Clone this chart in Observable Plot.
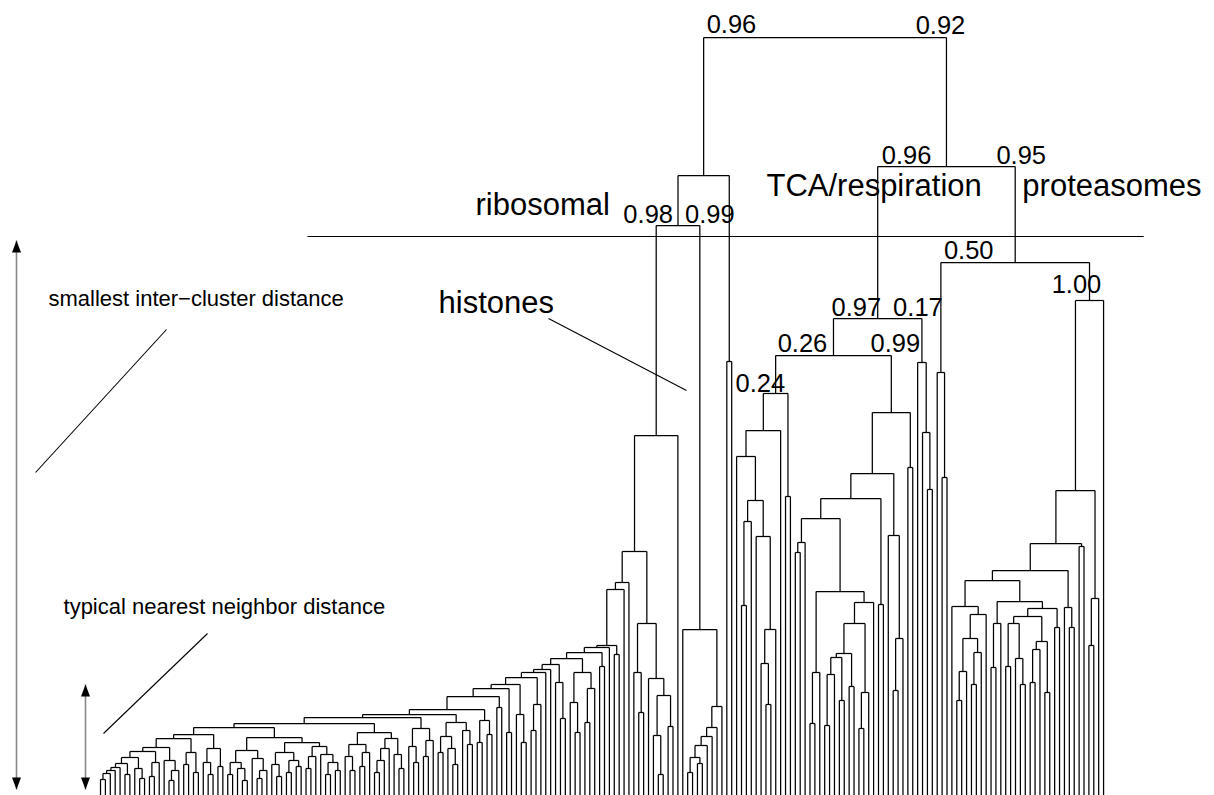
<!DOCTYPE html>
<html>
<head>
<meta charset="utf-8">
<script src="https://cdn.jsdelivr.net/npm/d3@7"></script>
<script src="https://cdn.jsdelivr.net/npm/@observablehq/plot@0.6"></script>
<style>
  html, body { margin: 0; padding: 0; background: #fff; }
  #chart svg { display: block; }
</style>
</head>
<body>
<div id="chart"></div>
<script>
// ---------------- DATA ----------------
// Tree notation: a leaf is 0, a join is [height, left, right].
// Heights are distances above the leaf baseline (figure units ≈ pixels).

// left "staircase" of small clusters, joined one after another
const stairFirst = [13, 0, 0];
const stairBlockA = [55, [42, [30, [18, 0, 0], [24, 0, [12, 0, 0]]], [34, 0, [22, [14, 0, 0], 0]]],
                         [50, [40, [28, 0, [16, 0, 0]], [32, [20, 0, 0], [26, 0, 0]]],
                              [46, [36, [24, 0, 0], 0], [38, 0, [30, [18, 0, 0], [22, 0, 0]]]]]];
const stairBlockB = [60, [48, [36, 0, [22, 0, 0]], [40, [26, 0, 0], 0]],
                         [54, [44, [32, [20, 0, 0], 0], 0], [38, 0, [24, 0, 0]]]];
const stairBlockC = [64, [46, 0, [30, 0, 0]], [52, [36, 0, 0], 0]];
const stairBlockD = [70, [56, [40, 0, 0], [44, 0, [28, 0, 0]]], [62, 0, [48, 0, 0]]];
const stairBlockE = [72, [50, 0, 0], [58, 0, 0]];
const stairHeights = [19, 22, 25, 29, 35, 41, 45, 54, 58, 65, 69, 75, 78, 83, 96, 104, 108, 115, 120, 123, 128, 134, 140, 145, 147];
const stairGroups = [
  0, 0, 0, [18, 0, 0], [24, 0, [14, 0, 0]], [30, [16, 0, 0], 0], [32, 0, [22, [12, 0, 0], 0]],
  [40, [28, 0, 0], [20, 0, 0]], [44, [30, 0, [18, 0, 0]], [26, 0, 0]],
  stairBlockA, stairBlockB, stairBlockC, stairBlockD, stairBlockE,
  [85, 0, 0], [60, 0, 0], [78, 0, [50, 0, 0]], [88, [62, 0, 0], 0], 0, 0,
  [110, 0, [74, 0, 0]], [120, [90, 0, [60, 0, 0]], [104, [70, 0, 0], 0]], [126, 0, 0], 0, [138, 0, 0]
];

// ribosomal / histone side
const ribosomalSide = [169, [120, 0, [80, 0, 0]], [114, 0, [97, [57, 0, [18, 0, 0]], [66, 0, 0]]]];
const histones = [163, 0, [86, [65, [56, [47, [35, [20, 0, 0], [29, 0, 0]], 0], 0], 0], 0]];
const histoneNeighbour = [431, 0, 0];

// TCA / respiration
const tcaA = [399, [362, [336, 0, [292, [271, [187, 0, 0], 0], [256, 0, [163, [129, 0, [88, 0, 0]], 0]]]], 0], [296, 0, 0]];
const tcaB1 = [250, [240, 0, 0], 0];
const tcaB2 = [139, [135, [118, [67, 0, 0], 0], [92, 0, 0]], [106, 0, 0]];
const tcaB3 = [100, [64, 0, 0], 0];
const tcaB4 = [257, 0, [154, [102, 0, 0], 0]];
const tcaBJoins = [380, 319, 294, 274, 201, 190, 169];
const tcaC = [430, 0, [360, 0, [303, 0, 0]]];

// proteasomes
const protA = [420, 0, [315, 0, 0]];
const protF = [186, 0, [178, [154, [121, [92, 0, 0], 0], [140, [108, 0, 0], 0]], 0]];
const protG = [191, [169, [125, 0, 0], 0],
                    [184, [176, [169, [126, 0, 0], [134, 0, [108, 0, 0]]], [151, [143, [110, 0, 0], 0], [100, 0, 0]]],
                          [165, 0, 0]]];
const protSmall = [[185, 0, [165, 0, 0]], [246, 0, 0], [194, [147, 0, 0], 0]];

// upper joins
const upperJoins = [755, 617, 567, 357, 241, 210, 203, 626, 474, 437, 530, 492, 302, 249, 222, 212];

// node labels
const labelText   = ["0.96", "0.92", "0.96", "0.95", "0.98", "0.99", "0.97", "0.17", "0.26", "0.99", "0.24", "0.50", "1.00"];
const labelNode   = ["root", "root", "rt", "rt", "a1", "a1", "tca", "tca", "t1", "t1", "t1a", "prot", "p2"];
const labelAt     = ["L", "R", "L", "R", "C", "C", "L", "R", "L", "R", "L", "L", "L"];
const labelAnchor = ["start", "middle", "start", "middle", "end", "start", "start", "middle", "start", "middle", "middle", "start", "middle"];
const labelDx     = [3, -6, 4, 6, -5, 7, -2, -4, 2, 4, -3, 3, 1];
const labelDy     = [5, 4, 3, 3, 3, 3, 3, 3, 4, 4, 2, 4, 8];

// annotations (x in leaf units, y in height units)
const cutX = [42.3, 213.2];
const cutHeight = 556;
const arrowX = [-17.17, -3.07];
const arrowLow = [3, 3];
const arrowHigh = [552, 108];
const pointerX1 = [-13.28, 0.61, 91.56];
const pointerY1 = [320, 59, 474];
const pointerX2 = [13.49, 21.87, 119.76];
const pointerY2 = [463, 159, 402];
const noteText = ["smallest inter\u2212cluster distance", "typical nearest neighbor distance", "histones", "ribosomal", "TCA/respiration", "proteasomes"];
const noteX = [-10.63, -7.56, 69.08, 76.64, 136.1, 188.4];
const noteY = [487, 179, 480, 578, 597, 597];
const noteSize = [22, 22, 31, 31, 31, 31];

// ---------------- BUILD ----------------
const [hRoot, hA, hA1, hRibo, hR1, hR1a, hR1x, hRT, hTCA, hT1, hProt, hP2, hP2a, hP2b, hP2d, hP2e] = upperJoins;
const stair = stairHeights.reduce((acc, h, k) => [h, acc, stairGroups[k]], stairFirst);
const ribo = [hRibo, [hR1, [hR1a, [hR1x, stair, 0], 0], ribosomalSide], 0];
const a1 = [hA1, ribo, histones];
const aNode = [hA, a1, histoneNeighbour];

const [b0, b1, b2, b3, b4, b5, b6] = tcaBJoins;
const tcaB = [b0, [b1, [b2, [b3, tcaB1, [b4, [120, [69, 0, 0], 0], [b5, [b6, tcaB2, tcaB3], 0]]], [188, 0, 0]], tcaB4], [325, 0, 0]];
const t1 = [hT1, tcaA, tcaB];
const tca = [hTCA, t1, tcaC];

const pE = [hP2e, protF, protG];
const pD = [hP2d, pE, protSmall[0]];
const pB = [hP2b, pD, protSmall[1]];
const pA = [hP2a, pB, protSmall[2]];
const p2 = [hP2, pA, 0];
const prot = [hProt, protA, p2];
const rt = [hRT, tca, prot];
const root = [hRoot, aNode, rt];
const named = {root, rt, a1, tca, t1, t1a: tcaA, prot, p2};

const leafBase = -3;
let leafIndex = 0;
const nodeOf = new Map();
const segs = [];
function build(t) {
  if (t === 0) return {x: leafIndex++, h: leafBase};
  const [h, l, r] = t;
  const A = build(l), B = build(r);
  const n = {x: (A.x + B.x) / 2, h, kids: [A, B]};
  segs.push({x1: A.x, y1: A.h, x2: A.x, y2: h});
  segs.push({x1: B.x, y1: B.h, x2: B.x, y2: h});
  segs.push({x1: A.x, y1: h, x2: B.x, y2: h});
  nodeOf.set(t, n);
  return n;
}
build(root);

const W = 1214, H = 795;
const xDomain = [-20.44, 227.67];
const yDomain = [-3, 792];
const pxPerLeaf = W / (xDomain[1] - xDomain[0]);

const labels = labelText.map((text, i) => {
  const n = nodeOf.get(named[labelNode[i]]);
  const bx = labelAt[i] === "L" ? n.kids[0].x : labelAt[i] === "R" ? n.kids[1].x : n.x;
  return {text, anchor: labelAnchor[i], x: bx + labelDx[i] / pxPerLeaf, y: n.h + labelDy[i]};
});
const notes = noteText.map((text, i) => ({text, x: noteX[i], y: noteY[i], size: noteSize[i]}));
const arrows = arrowX.map((x, i) => ({x, lo: arrowLow[i], hi: arrowHigh[i]}));
const pointers = pointerX1.map((x, i) => ({x1: x, y1: pointerY1[i], x2: pointerX2[i], y2: pointerY2[i]}));

const headUp = {draw(c) { c.moveTo(0, 0); c.lineTo(4.5, 12); c.lineTo(-4.5, 12); c.closePath(); }};
const headDown = {draw(c) { c.moveTo(0, 0); c.lineTo(4.5, -12); c.lineTo(-4.5, -12); c.closePath(); }};

const font = "'Liberation Sans', Arial, Helvetica, sans-serif";

const chart = Plot.plot({
  width: W, height: H,
  marginTop: 0, marginBottom: 0, marginLeft: 0, marginRight: 0,
  x: {domain: xDomain, axis: null},
  y: {domain: yDomain, axis: null},
  style: {background: "#fff", fontFamily: font},
  marks: [
    Plot.link(segs, {x1: "x1", y1: "y1", x2: "x2", y2: "y2", stroke: "#000", strokeWidth: 1.25}),
    Plot.link([{x1: cutX[0], x2: cutX[1], y: cutHeight}], {x1: "x1", x2: "x2", y1: "y", y2: "y", stroke: "#000", strokeWidth: 1}),
    Plot.link(pointers, {x1: "x1", y1: "y1", x2: "x2", y2: "y2", stroke: "#000", strokeWidth: 1.1}),
    Plot.link(arrows, {x1: "x", x2: "x", y1: "lo", y2: "hi", stroke: "#888", strokeWidth: 1.6}),
    Plot.dot(arrows, {x: "x", y: "hi", symbol: headUp, fill: "#000", stroke: "none", r: 6}),
    Plot.dot(arrows, {x: "x", y: "lo", symbol: headDown, fill: "#000", stroke: "none", r: 6}),
    ...["start", "middle", "end"].map(anchor =>
      Plot.text(labels.filter(d => d.anchor === anchor), {
        x: "x", y: "y", text: "text", textAnchor: anchor, lineAnchor: "bottom",
        fontSize: 25.5, fill: "#000", fontFamily: font
      })),
    Plot.text(notes, {x: "x", y: "y", text: "text", fontSize: "size", textAnchor: "start",
      lineAnchor: "bottom", fill: "#000", fontFamily: font})
  ]
});
document.getElementById("chart").appendChild(chart);
</script>
</body>
</html>
